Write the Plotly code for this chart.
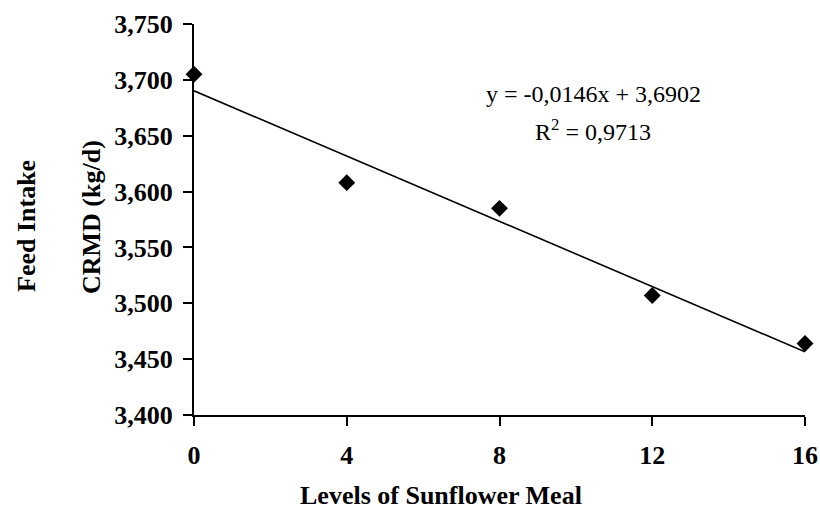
import plotly.graph_objects as go

# Data
levels = [0, 4, 8, 12, 16]
feed_intake = [3.705, 3.608, 3.585, 3.507, 3.464]
slope = -0.0146
intercept = 3.6902
x_ticks = [0, 4, 8, 12, 16]
x_tick_labels = ["0", "4", "8", "12", "16"]
y_ticks = [3.40, 3.45, 3.50, 3.55, 3.60, 3.65, 3.70, 3.75]
y_tick_labels = ["3,400", "3,450", "3,500", "3,550", "3,600", "3,650", "3,700", "3,750"]

trend_x = [levels[0], levels[-1]]
trend_y = [intercept + slope * v for v in trend_x]

FONT = "Liberation Serif"

W, H = 820, 510
PX0, PX1, PY0, PY1 = 194, 805, 24, 415  # plot area in page pixels


def px(x):
    return (x - PX0) / (PX1 - PX0)


def py(y):
    return (PY1 - y) / (PY1 - PY0)


fig = go.Figure()
fig.add_trace(go.Scatter(
    x=trend_x, y=trend_y, mode="lines",
    line=dict(color="black", width=1.6),
    cliponaxis=False, showlegend=False, hoverinfo="skip"))
fig.add_trace(go.Scatter(
    x=levels, y=feed_intake, mode="markers",
    marker=dict(symbol="diamond", size=13, color="black"),
    cliponaxis=False, showlegend=False))

bold = dict(family=FONT, size=26, color="black", weight="bold")
reg = dict(family=FONT, size=24, color="black")

fig.update_layout(
    width=W, height=H,
    margin=dict(l=PX0, r=W - PX1, t=PY0, b=H - PY1),
    paper_bgcolor="white", plot_bgcolor="white",
    font=dict(family=FONT, color="black"),
    xaxis=dict(range=[0, 16], tickvals=x_ticks, ticktext=x_tick_labels,
               showline=True, linecolor="black", linewidth=2, automargin=False,
               ticks="outside", ticklen=9, tickwidth=2, tickcolor="black",
               showgrid=False, zeroline=False,
               tickfont=bold, ticklabelstandoff=7),
    yaxis=dict(range=[3.40, 3.75], tickvals=y_ticks, ticktext=y_tick_labels,
               showline=True, linecolor="black", linewidth=2, automargin=False,
               ticks="outside", ticklen=9, tickwidth=2, tickcolor="black",
               showgrid=False, zeroline=False,
               tickfont=bold, ticklabelstandoff=5),
    annotations=[
        dict(text="Levels of Sunflower Meal", xref="paper", yref="paper",
             x=px(441), y=py(496), xanchor="center", yanchor="middle",
             showarrow=False, font=bold),
        dict(text="Feed Intake", xref="paper", yref="paper",
             x=px(26), y=py(226), xanchor="center", yanchor="middle",
             textangle=-90, showarrow=False, font=bold),
        dict(text="CRMD (kg/d)", xref="paper", yref="paper",
             x=px(92), y=py(217), xanchor="center", yanchor="middle",
             textangle=-90, showarrow=False, font=bold),
        dict(text="y = -0,0146x + 3,6902", xref="paper", yref="paper",
             x=px(593), y=py(94), xanchor="center", yanchor="middle",
             showarrow=False, font=reg),
        dict(text="R<sup>2</sup> = 0,9713", xref="paper", yref="paper",
             x=px(593), y=py(130), xanchor="center", yanchor="middle",
             showarrow=False, font=reg),
    ],
)

fig.write_html(
    "out.html",
    config={"displayModeBar": False},
    post_script="document.body.style.margin='0';document.body.style.overflow='hidden';",
)
